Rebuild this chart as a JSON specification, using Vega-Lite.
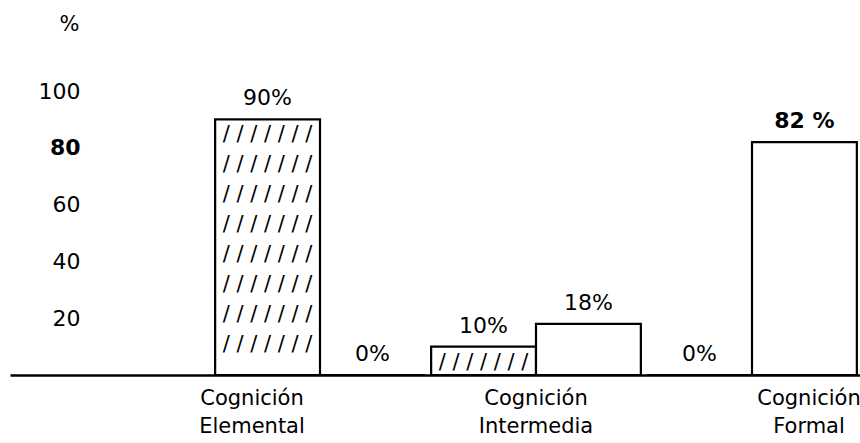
{
  "$schema": "https://vega.github.io/schema/vega-lite/v6.json",
  "autosize": "none",
  "width": 850,
  "height": 284,
  "padding": {"left": 10, "top": 91, "right": 0, "bottom": 68},
  "background": "white",
  "config": {"view": {"stroke": null}, "font": "DejaVu Sans"},
  "data": {"values": [
    {"categoria": "Cognición Elemental", "serie": "rayado", "valor": 90, "etiqueta": "90%"},
    {"categoria": "Cognición Elemental", "serie": "blanco", "valor": 0, "etiqueta": "0%"},
    {"categoria": "Cognición Intermedia", "serie": "rayado", "valor": 10, "etiqueta": "10%"},
    {"categoria": "Cognición Intermedia", "serie": "blanco", "valor": 18, "etiqueta": "18%"},
    {"categoria": "Cognición Formal", "serie": "rayado", "valor": 0, "etiqueta": "0%"},
    {"categoria": "Cognición Formal", "serie": "blanco", "valor": 82, "etiqueta": "82 %"}
  ]},
  "encoding": {
    "x": {
      "field": "categoria", "type": "nominal", "sort": null,
      "scale": {"paddingInner": 0, "paddingOuter": 0.4676, "align": 1},
      "axis": {
        "title": null, "labelAngle": 0, "ticks": false,
        "domain": true, "domainColor": "black", "domainWidth": 2.5,
        "labelFont": "DejaVu Sans", "labelFontSize": 21, "labelColor": "black",
        "labelLineHeight": 28, "labelPadding": 12, "labelOverlap": false, "labelBound": false,
        "labelExpr": "split(datum.label, ' ')",
        "labelOffset": {"expr": "datum.value == 'Cognición Elemental' ? -68 : (datum.value == 'Cognición Formal' ? 57 : 0)"}
      }
    },
    "xOffset": {
      "field": "serie", "type": "nominal",
      "scale": {"domain": ["rayado", "blanco"], "paddingInner": 0, "paddingOuter": 0.03}
    }
  },
  "layer": [
    {
      "mark": {"type": "bar", "fill": "white", "stroke": "black", "strokeWidth": 2.2},
      "encoding": {
        "y": {
          "field": "valor", "type": "quantitative",
          "scale": {"domain": [0, 100], "nice": false},
          "axis": {
            "values": [20, 40, 60, 80, 100], "grid": false, "ticks": false, "domain": false,
            "offset": -75, "labelPadding": 5,
            "labelFont": "DejaVu Sans", "labelFontSize": 22, "labelColor": "black",
            "labelFontWeight": {"condition": {"test": "datum.value == 80", "value": "bold"}, "value": "normal"},
            "title": "%", "titleAngle": 0, "titleX": -16, "titleY": -67,
            "titleAlign": "center", "titleBaseline": "middle",
            "titleFont": "DejaVu Sans", "titleFontSize": 21, "titleFontWeight": "normal", "titleColor": "black"
          }
        }
      }
    },
    {
      "transform": [{"filter": "datum.serie == 'rayado' && datum.valor > 0"}],
      "mark": {
        "type": "text", "font": "DejaVu Sans", "fontSize": 21, "lineHeight": 30,
        "baseline": "top", "align": "center", "dy": 5, "color": "black",
        "text": {"expr": "slice(['/ / / / / / /', '/ / / / / / /', '/ / / / / / /', '/ / / / / / /', '/ / / / / / /', '/ / / / / / /', '/ / / / / / /', '/ / / / / / /'], 0, max(1, floor(datum.valor / 11)))"}
      },
      "encoding": {
        "y": {"field": "valor", "type": "quantitative"}
      }
    },
    {
      "mark": {
        "type": "text", "font": "DejaVu Sans", "fontSize": 22, "baseline": "alphabetic",
        "align": "center", "dy": -14, "color": "black",
        "fontWeight": {"expr": "datum.valor == 82 ? 'bold' : 'normal'"}
      },
      "encoding": {
        "y": {"field": "valor", "type": "quantitative"},
        "text": {"field": "etiqueta"}
      }
    }
  ]
}
